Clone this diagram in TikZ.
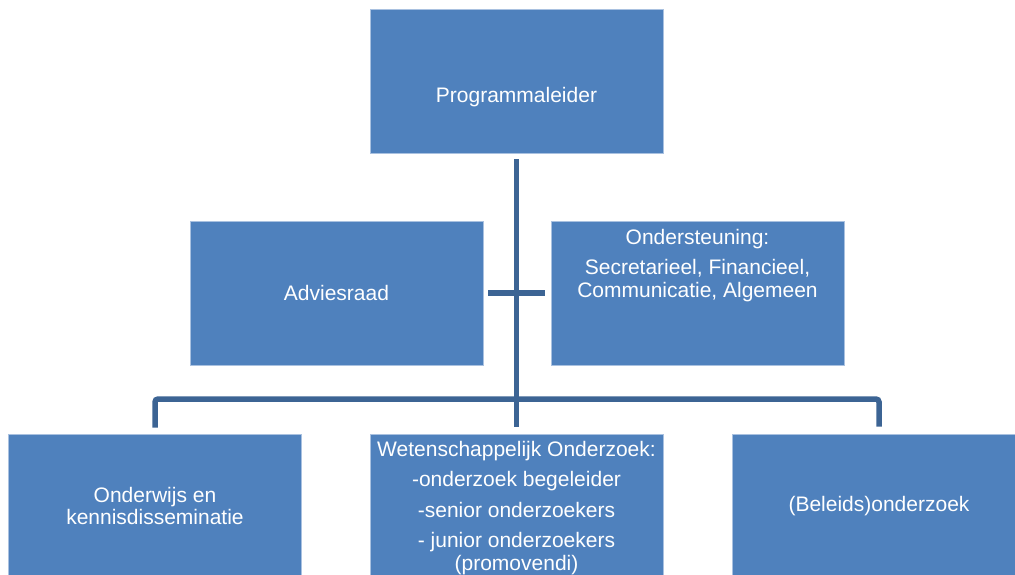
\documentclass[tikz,border=0pt]{standalone}
\usepackage{fontspec}
\setmainfont{Liberation Sans}
\definecolor{boxblue}{HTML}{4F81BD}
\definecolor{boxedge}{HTML}{A9C1E0}
\definecolor{linkblue}{HTML}{3C6494}

\begin{document}
\begin{tikzpicture}[x=1pt, y=-1pt,
    box/.style={shape=rectangle, fill=boxblue, draw=boxedge, line width=0.8pt, minimum width=293pt, minimum height=144pt, inner sep=0pt, text=white, align=center, font=\fontsize{21}{22.5}\selectfont},
    tekst/.style={text=white, align=center, inner sep=0pt, font=\fontsize{21}{22.5}\selectfont},
    link/.style={draw=linkblue, line width=5.5pt, shorten <=6pt, shorten >=7pt}]
    \useasboundingbox (0,0) rectangle (1015,574);
    \clip (0,0) rectangle (1015,574);

    \node[box] (leider) at (516.5, 81) {};
    \node[box] (advies) at (336.5, 293) {Adviesraad};
    \node[box] (steun) at (697.5, 293) {};
    \node[box] (onderwijs) at (155, 506) {Onderwijs en\\ kennisdisseminatie};
    \node[box] (onderzoek) at (516.5, 506) {};
    \node[box] (beleid) at (879, 506) {(Beleids)onderzoek};

    \node[tekst] (leidertekst) at (516.5, 97) {Programmaleider};
    \node[tekst, anchor=north] (steuntekst) at ([yshift=-8pt]steun.north) {Ondersteuning:\\[8pt] Secretarieel, Financieel,\\ Communicatie, Algemeen};
    \node[tekst, anchor=north] (onderzoektekst) at ([yshift=-7pt]onderzoek.north) {Wetenschappelijk Onderzoek:\\[8pt] -onderzoek begeleider\\[8pt] -senior onderzoekers\\[8pt] - junior onderzoekers\\ (promovendi)};

    \coordinate (tak) at (516.5, 399);

    \draw[link] (leider) -- (onderzoek);
    \draw[link, shorten <=5pt, shorten >=6pt] (advies) -- (steun);
    \draw[link, rounded corners=3pt] (onderwijs.north) |- (tak) -| (beleid.north);

\end{tikzpicture}
\end{document}
